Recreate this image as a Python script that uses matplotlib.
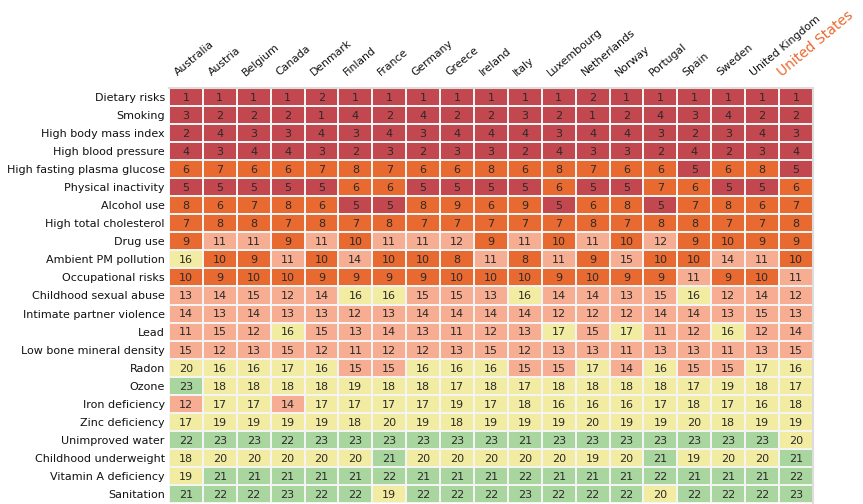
import numpy as np
import matplotlib.pyplot as plt
from matplotlib.colors import ListedColormap, BoundaryNorm

countries = ['Australia', 'Austria', 'Belgium', 'Canada', 'Denmark', 'Finland',
             'France', 'Germany', 'Greece', 'Ireland', 'Italy', 'Luxembourg',
             'Netherlands', 'Norway', 'Portugal', 'Spain', 'Sweden',
             'United Kingdom', 'United States']

risks = ['Dietary risks', 'Smoking', 'High body mass index', 'High blood pressure',
         'High fasting plasma glucose', 'Physical inactivity', 'Alcohol use',
         'High total cholesterol', 'Drug use', 'Ambient PM pollution',
         'Occupational risks', 'Childhood sexual abuse', 'Intimate partner violence',
         'Lead', 'Low bone mineral density', 'Radon', 'Ozone', 'Iron deficiency',
         'Zinc deficiency', 'Unimproved water', 'Childhood underweight',
         'Vitamin A deficiency', 'Sanitation']

# rank of each risk factor, one row per risk, columns in country order
ranks = [
    [1, 1, 1, 1, 2, 1, 1, 1, 1, 1, 1, 1, 2, 1, 1, 1, 1, 1, 1],
    [3, 2, 2, 2, 1, 4, 2, 4, 2, 2, 3, 2, 1, 2, 4, 3, 4, 2, 2],
    [2, 4, 3, 3, 4, 3, 4, 3, 4, 4, 4, 3, 4, 4, 3, 2, 3, 4, 3],
    [4, 3, 4, 4, 3, 2, 3, 2, 3, 3, 2, 4, 3, 3, 2, 4, 2, 3, 4],
    [6, 7, 6, 6, 7, 8, 7, 6, 6, 8, 6, 8, 7, 6, 6, 5, 6, 8, 5],
    [5, 5, 5, 5, 5, 6, 6, 5, 5, 5, 5, 6, 5, 5, 7, 6, 5, 5, 6],
    [8, 6, 7, 8, 6, 5, 5, 8, 9, 6, 9, 5, 6, 8, 5, 7, 8, 6, 7],
    [7, 8, 8, 7, 8, 7, 8, 7, 7, 7, 7, 7, 8, 7, 8, 8, 7, 7, 8],
    [9, 11, 11, 9, 11, 10, 11, 11, 12, 9, 11, 10, 11, 10, 12, 9, 10, 9, 9],
    [16, 10, 9, 11, 10, 14, 10, 10, 8, 11, 8, 11, 9, 15, 10, 10, 14, 11, 10],
    [10, 9, 10, 10, 9, 9, 9, 9, 10, 10, 10, 9, 10, 9, 9, 11, 9, 10, 11],
    [13, 14, 15, 12, 14, 16, 16, 15, 15, 13, 16, 14, 14, 13, 15, 16, 12, 14, 12],
    [14, 13, 14, 13, 13, 12, 13, 14, 14, 14, 14, 12, 12, 12, 14, 14, 13, 15, 13],
    [11, 15, 12, 16, 15, 13, 14, 13, 11, 12, 13, 17, 15, 17, 11, 12, 16, 12, 14],
    [15, 12, 13, 15, 12, 11, 12, 12, 13, 15, 12, 13, 13, 11, 13, 13, 11, 13, 15],
    [20, 16, 16, 17, 16, 15, 15, 16, 16, 16, 15, 15, 17, 14, 16, 15, 15, 17, 16],
    [23, 18, 18, 18, 18, 19, 18, 18, 17, 18, 17, 18, 18, 18, 18, 17, 19, 18, 17],
    [12, 17, 17, 14, 17, 17, 17, 17, 19, 17, 18, 16, 16, 16, 17, 18, 17, 16, 18],
    [17, 19, 19, 19, 19, 18, 20, 19, 18, 19, 19, 19, 20, 19, 19, 20, 18, 19, 19],
    [22, 23, 23, 22, 23, 23, 23, 23, 23, 23, 21, 23, 23, 23, 23, 23, 23, 23, 20],
    [18, 20, 20, 20, 20, 20, 21, 20, 20, 20, 20, 20, 19, 20, 21, 19, 20, 20, 21],
    [19, 21, 21, 21, 21, 21, 22, 21, 21, 21, 22, 21, 21, 21, 22, 21, 21, 21, 22],
    [21, 22, 22, 23, 22, 22, 19, 22, 22, 22, 23, 22, 22, 22, 20, 22, 22, 22, 23],
]

data = np.array(ranks)
nrow, ncol = data.shape

cmap = ListedColormap(['#c2474f', '#e86a30', '#f6ad92', '#f2eba2', '#a9d59e'])
norm = BoundaryNorm([0.5, 5.5, 10.5, 15.5, 20.5, 25.5], cmap.N)

fig = plt.figure(figsize=(8.63, 5.04), dpi=100)
ax = fig.add_axes([0.1958, 0.002, 0.7462, 0.8234])

ax.pcolormesh(np.arange(ncol + 1) - 0.5, np.arange(nrow + 1) - 0.5, data,
              cmap=cmap, norm=norm, edgecolors='#f4f4f4', linewidth=1.2)
ax.set_xlim(-0.5, ncol - 0.5)
ax.set_ylim(nrow - 0.5, -0.5)

for i in range(nrow):
    for j in range(ncol):
        ax.text(j, i + 0.05, str(data[i, j]), ha='center', va='center',
                fontsize=8, color='#2a2a2a')

ax.set_yticks(range(nrow))
ax.set_yticklabels(risks, fontsize=8, color='#111111')
ax.tick_params(axis='y', length=0, pad=3)
ax.set_xticks([])

for side in ['left', 'bottom']:
    ax.spines[side].set_visible(False)
for side in ['top', 'right']:
    ax.spines[side].set_color('#dddddd')
    ax.spines[side].set_linewidth(1.5)

trans = ax.get_xaxis_transform()
for j, c in enumerate(countries):
    if c == 'United States':
        ax.text(j - 0.35, 1.02, c, transform=trans, rotation=40,
                rotation_mode='anchor', ha='left', va='bottom',
                fontsize=10, color='#e8692f', clip_on=False)
    else:
        ax.text(j - 0.2, 1.025, c, transform=trans, rotation=40,
                rotation_mode='anchor', ha='left', va='bottom',
                fontsize=7.8, color='#111111', clip_on=False)

fig.savefig('out.png', dpi=100)
